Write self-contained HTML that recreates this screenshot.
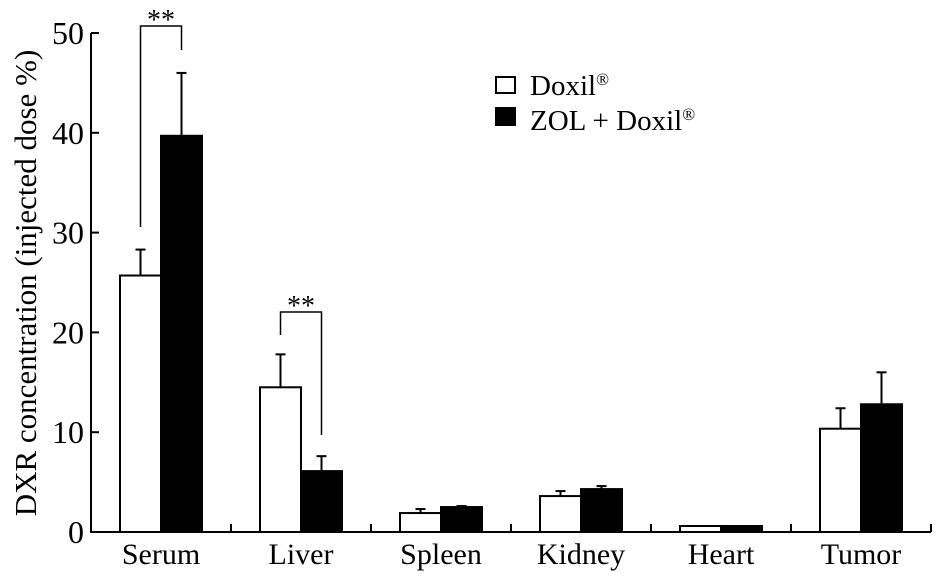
<!DOCTYPE html>
<html><head><meta charset="utf-8"><style>
body{margin:0;background:#fff}
svg{display:block;font-family:"Liberation Serif","Times New Roman",serif}
</style></head><body>
<svg id="chart" width="945" height="581" viewBox="0 0 945 581">
<g id="axes"></g>
<g id="bars"></g>
<text transform="translate(36,283) rotate(-90)" text-anchor="middle" font-size="31">DXR concentration (injected dose %)</text>
<g>
<rect x="496" y="77" width="19" height="16" fill="#fff" stroke="#000" stroke-width="2"/>
<text x="530" y="95" font-size="29">Doxil<tspan font-size="17" dy="-10">®</tspan></text>
<rect x="495" y="107" width="21" height="19" fill="#000"/>
<text x="530" y="130" font-size="29">ZOL + Doxil<tspan font-size="17" dy="-10">®</tspan></text>
</g>
</svg>
<script>
const categories=["Serum","Liver","Spleen","Kidney","Heart","Tumor"];
const doxil=[25.7,14.5,1.9,3.6,0.6,10.35];
const doxilErr=[2.6,3.3,0.4,0.5,0,2.05];
const zol=[39.7,6.1,2.5,4.3,0.6,12.8];
const zolErr=[6.3,1.5,0.1,0.3,0,3.2];
const yTicks=[0,10,20,30,40,50];
const NS="http://www.w3.org/2000/svg";
const x0=91,xEnd=931,y0=532,pxPer=9.98,band=140,bw=41;
const y=v=>y0-v*pxPer;
const cx=i=>x0+band*i+band/2;
function mk(t,a,p){const e=document.createElementNS(NS,t);for(const k in a)e.setAttribute(k,a[k]);p.appendChild(e);return e;}
const axes=document.getElementById('axes'),bars=document.getElementById('bars');
let l=mk('line',{x1:x0,y1:y(0),x2:xEnd,y2:y(0),stroke:'#000','stroke-width':2},axes);

l=mk('line',{x1:x0,y1:y(0)+1,x2:x0,y2:y(50),stroke:'#000','stroke-width':2},axes);

yTicks.forEach(v=>{
 const t=mk('line',{x1:x0,y1:y(v),x2:x0+8,y2:y(v),stroke:'#000','stroke-width':2},axes);
 
 const tx=mk('text',{x:x0-7,y:y(v)+11,'text-anchor':'end','font-size':32},axes);tx.textContent=v;
 
});
categories.forEach((c,i)=>{
 const t=mk('line',{x1:x0+band*(i+1),y1:y(0),x2:x0+band*(i+1),y2:y(0)-8,stroke:'#000','stroke-width':2},axes);
 
 const tx=mk('text',{x:cx(i),y:564,'text-anchor':'middle','font-size':30},axes);tx.textContent=c;
 
 [[doxil,doxilErr,-bw,'#fff','doxil'],[zol,zolErr,0,'#000','zol']].forEach(([vals,errs,off,fill,nm])=>{
  const v=vals[i],bx=cx(i)+off,mid=bx+bw/2;
  if(errs[i]>0){
   const e=mk('line',{x1:mid,y1:y(v),x2:mid,y2:y(v+errs[i]),stroke:'#000','stroke-width':2},bars);
   
   const cap=mk('line',{x1:mid-5,y1:y(v+errs[i]),x2:mid+5,y2:y(v+errs[i]),stroke:'#000','stroke-width':2},bars);
   
  }
  const r=mk('rect',{x:bx,y:y(v),width:bw,height:v*pxPer,fill:fill,stroke:'#000','stroke-width':2},bars);
  
  
 });
});
function bracket(i,yl,yTop,yr,name){
 const a=cx(i)-bw/2,b=cx(i)+bw/2;
 const p=mk('polyline',{points:`${a},${yl} ${a},${yTop} ${b},${yTop} ${b},${yr}`,fill:'none',stroke:'#000','stroke-width':1.5},bars);
 
 const s=mk('text',{x:(a+b)/2,y:yTop+3,'text-anchor':'middle','font-size':28},bars);s.textContent='**';
 
}
bracket(0,227,26,50,'significance-serum');
bracket(1,335,312,435,'significance-liver');
</script>
</body></html>
